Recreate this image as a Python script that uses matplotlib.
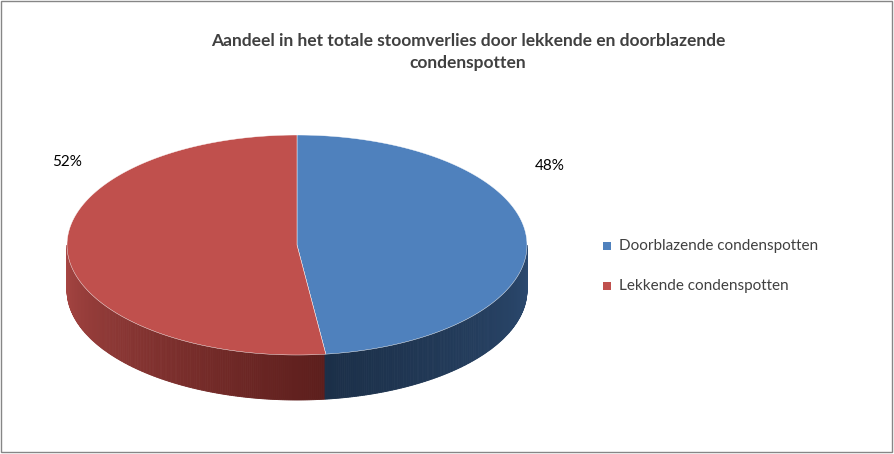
import numpy as np
import matplotlib.pyplot as plt
from matplotlib.patches import Polygon, Rectangle
from matplotlib.colors import to_rgb

labels = ["Doorblazende condenspotten", "Lekkende condenspotten"]
values = [48, 52]
pct_labels = ["48%", "52%"]
top_colors = ["#4F81BD", "#C0504D"]
side_light = ["#2C4A70", "#A94744"]
side_dark = ["#1B2F48", "#5C1E1C"]

title = "Aandeel in het totale stoomverlies door lekkende en doorblazende\ncondenspotten"

# ellipse geometry in pixel space
cx, cy, rx, ry, depth = 297, 245, 230, 110, 45

fig = plt.figure(figsize=(8.94, 4.54), dpi=100)
ax = fig.add_axes([0, 0, 1, 1])
ax.set_xlim(0, 894)
ax.set_ylim(454, 0)
ax.axis("off")
ax.add_patch(Rectangle((1, 1), 891, 451, fill=False, ec="#868686", lw=1))


def pt(t, dy=0):
    r = np.radians(t)
    return cx + rx * np.cos(r), cy - ry * np.sin(r) + dy


# slice angle ranges (math degrees), starting at 12 o'clock going clockwise
total = sum(values)
spans = []
start = 90.0
for v in values:
    end = start - 360.0 * v / total
    spans.append((end, start))
    start = end
# spans[0] blue: (-82.8, 90); spans[1] red: (-270, -82.8)


def slice_at(t):
    for i, (a, b) in enumerate(spans):
        for k in (-360, 0, 360):
            if a <= t + k <= b:
                return i
    return 0


# side wall, front half
ts = np.linspace(180, 360, 361)
bnd = spans[0][0] % 360
for t0, t1 in zip(ts[:-1], ts[1:]):
    i = slice_at((t0 + t1) / 2)
    if i == 1:
        f = (t0 - 180) / (bnd - 180)
    else:
        f = 1 - (t0 - bnd) / (360 - bnd)
    c = (1 - f) * np.array(to_rgb(side_light[i])) + f * np.array(to_rgb(side_dark[i]))
    pts = [pt(t0), pt(t1), pt(t1, depth), pt(t0, depth)]
    ax.add_patch(Polygon(pts, closed=True, fc=c, ec=c, lw=0.6))

# top face
for i, (a, b) in enumerate(spans):
    tt = np.linspace(a, b, 200)
    pts = [(cx, cy)] + [pt(t) for t in tt]
    ax.add_patch(Polygon(pts, closed=True, fc=top_colors[i], ec="#ffffff", lw=0.3))

ax.text(468, 52, title, ha="center", va="center", fontsize=12.5, fontweight="bold",
        color="#404040", family="Lato", linespacing=1.45)

ax.text(535, 166, pct_labels[0], ha="left", va="center", fontsize=11, color="#000000", family="Lato")
ax.text(82, 162, pct_labels[1], ha="right", va="center", fontsize=11, color="#000000", family="Lato")

for k, (lab, col) in enumerate(zip(labels, top_colors)):
    y = 246 + 40 * k
    ax.add_patch(Rectangle((603, y - 4), 8, 8, fc=col, ec="none"))
    ax.text(619, y, lab, ha="left", va="center", fontsize=11, color="#404040", family="Lato")

fig.savefig("out.png", dpi=100)
